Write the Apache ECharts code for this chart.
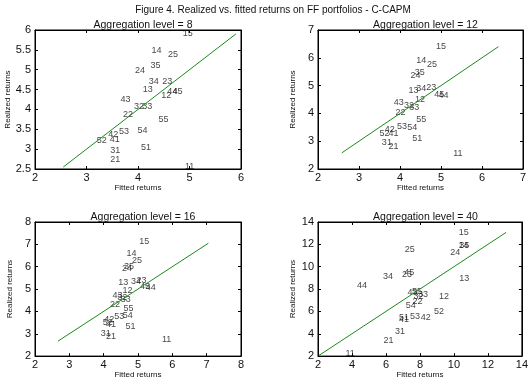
<!DOCTYPE html>
<html>
<head>
<meta charset="utf-8">
<script src="https://cdn.jsdelivr.net/npm/echarts@6/dist/echarts.min.js"></script>
<style>
  html, body { margin: 0; padding: 0; background: #fff; }
  #main { width: 531px; height: 380px; }
</style>
</head>
<body>
<div id="main"></div>
<script>
// portfolio labels (size/value quintiles)
var ports = ['11','12','13','14','15','21','22','23','24','25','31','32','33','34','35',
             '41','42','43','44','45','51','52','53','54','55'];

// aggregation level = 8
var fit8  = [4.92,4.46,4.10,4.27,4.88,3.47,3.72,4.48,3.95,4.59,3.47,3.93,4.09,4.22,4.25,
             3.46,3.43,3.67,4.58,4.68,4.07,3.21,3.64,4.00,4.41];
var real8 = [2.54,4.34,4.49,5.47,5.90,2.72,3.87,4.69,4.97,5.37,2.96,4.05,4.07,4.68,5.10,
             3.23,3.36,4.23,4.43,4.43,3.04,3.20,3.42,3.45,3.73];

// aggregation level = 12
var fit12  = [5.31,4.38,4.22,4.41,4.89,3.73,3.90,4.65,4.27,4.67,3.57,4.11,4.24,4.41,4.37,
              3.73,3.64,3.86,4.95,4.85,4.31,3.51,3.94,4.19,4.41];
var real12 = [2.55,4.49,4.81,5.90,6.38,2.79,4.01,4.93,5.33,5.74,2.92,4.25,4.19,4.88,5.44,
              3.26,3.40,4.38,4.63,4.67,3.09,3.26,3.50,3.46,3.77];

// aggregation level = 16
var fit16  = [5.71,4.56,4.44,4.68,5.05,4.08,4.20,4.97,4.55,4.84,3.93,4.41,4.51,4.81,4.61,
              4.08,4.03,4.27,5.24,5.07,4.65,3.99,4.32,4.57,4.59];
var real16 = [2.70,4.91,5.29,6.56,7.10,2.86,4.29,5.37,5.91,6.27,2.99,4.60,4.50,5.33,5.99,
              3.39,3.63,4.70,5.03,5.10,3.31,3.46,3.73,3.79,4.10];

// aggregation level = 40
var fit40  = [3.65,9.15,10.35,10.30,10.31,5.89,7.59,6.97,9.82,7.14,6.56,7.65,7.92,5.85,10.35,
              6.80,8.08,7.30,4.33,7.10,6.80,8.86,7.44,7.20,7.56];
var real40 = [2.20,7.31,8.86,11.83,13.00,3.34,6.80,9.26,11.20,11.46,4.12,7.25,7.51,9.06,11.83,
              5.22,5.38,7.66,8.26,9.40,5.40,5.95,5.50,6.50,7.74];

// 45-degree line ends
var lineEnds = [[2.55, 5.90], [2.58, 6.40], [2.67, 7.05], [2.05, 13.07]];

var panelTitles = ['Aggregation level = 8', 'Aggregation level = 12',
                   'Aggregation level = 16', 'Aggregation level = 40'];
var xRange = [[2, 6, 1], [2, 7, 1], [2, 8, 1], [2, 14, 2]];
var yRange = [[2.5, 6, 0.5], [2, 7, 1], [2, 8, 1], [2, 14, 2]];
var fits = [fit8, fit12, fit16, fit40];
var reals = [real8, real12, real16, real40];

var FONT = 'Liberation Sans, Arial, sans-serif';
var grids = [
  {left: 35, top: 30, width: 206, height: 139},
  {left: 318, top: 30, width: 205, height: 139},
  {left: 35, top: 222, width: 206, height: 140},
  {left: 318, top: 222, width: 205, height: 140}
];

var option = {
  animation: false,
  backgroundColor: '#fff',
  textStyle: {fontFamily: FONT},
  title: [{
    text: 'Figure 4. Realized vs. fitted returns on FF portfolios - C-CAPM',
    left: 268, top: 0, textAlign: 'center',
    textStyle: {fontSize: 10, fontWeight: 'normal', color: '#111', fontFamily: FONT}
  }],
  grid: [],
  xAxis: [],
  yAxis: [],
  series: []
};

grids.forEach(function (g, i) {
  option.grid.push({left: g.left, top: g.top, width: g.width, height: g.height,
                    show: true, borderColor: '#000', borderWidth: 1, containLabel: false});
  option.title.push({
    text: panelTitles[i],
    left: g.left + g.width / 2, top: g.top - 15, textAlign: 'center',
    textStyle: {fontSize: 10.5, fontWeight: 'normal', color: '#111', fontFamily: FONT}
  });
  var xr = xRange[i], yr = yRange[i];
  // bottom / left axes with labels
  option.xAxis.push({
    type: 'value', gridIndex: i, min: xr[0], max: xr[1], interval: xr[2], position: 'bottom',
    name: 'Fitted returns', nameLocation: 'middle', nameGap: 12,
    nameTextStyle: {fontSize: 8, color: '#111', fontFamily: FONT},
    axisLine: {show: true, onZero: false, lineStyle: {color: '#000'}},
    axisTick: {show: true, inside: true, length: 3, lineStyle: {color: '#000'}},
    axisLabel: {fontSize: 11, color: '#111', margin: 3, fontFamily: FONT},
    splitLine: {show: false}
  });
  option.yAxis.push({
    type: 'value', gridIndex: i, min: yr[0], max: yr[1], interval: yr[2], position: 'left',
    name: 'Realized returns', nameLocation: 'middle', nameGap: 21, nameRotate: 90,
    nameTextStyle: {fontSize: 8, color: '#111', fontFamily: FONT},
    axisLine: {show: true, onZero: false, lineStyle: {color: '#000'}},
    axisTick: {show: true, inside: true, length: 3, lineStyle: {color: '#000'}},
    axisLabel: {fontSize: 11, color: '#111', margin: 4, fontFamily: FONT},
    splitLine: {show: false}
  });
  // mirrored top / right ticks
  option.xAxis.push({
    type: 'value', gridIndex: i, min: xr[0], max: xr[1], interval: xr[2], position: 'top',
    axisLine: {show: true, onZero: false, lineStyle: {color: '#000'}},
    axisTick: {show: true, inside: true, length: 3, lineStyle: {color: '#000'}},
    axisLabel: {show: false}, splitLine: {show: false}
  });
  option.yAxis.push({
    type: 'value', gridIndex: i, min: yr[0], max: yr[1], interval: yr[2], position: 'right',
    axisLine: {show: true, onZero: false, lineStyle: {color: '#000'}},
    axisTick: {show: true, inside: true, length: 3, lineStyle: {color: '#000'}},
    axisLabel: {show: false}, splitLine: {show: false}
  });

  var pts = ports.map(function (p, k) {
    return {name: p, value: [fits[i][k], reals[i][k]]};
  });
  option.series.push({
    type: 'line', xAxisIndex: i * 2, yAxisIndex: i * 2, silent: true,
    symbol: 'none', lineStyle: {color: '#1a8a1a', width: 1},
    data: [[lineEnds[i][0], lineEnds[i][0]], [lineEnds[i][1], lineEnds[i][1]]]
  });
  option.series.push({
    type: 'scatter', xAxisIndex: i * 2, yAxisIndex: i * 2, silent: true,
    symbol: 'circle', symbolSize: 1, itemStyle: {color: 'rgba(0,0,0,0)'},
    label: {
      show: true, position: [0, 0], align: 'left', verticalAlign: 'middle',
      formatter: '{b}', fontSize: 9, color: '#111', fontFamily: FONT
    },
    data: pts
  });
});

var chart = echarts.init(document.getElementById('main'));
chart.setOption(option);
</script>
</body>
</html>
